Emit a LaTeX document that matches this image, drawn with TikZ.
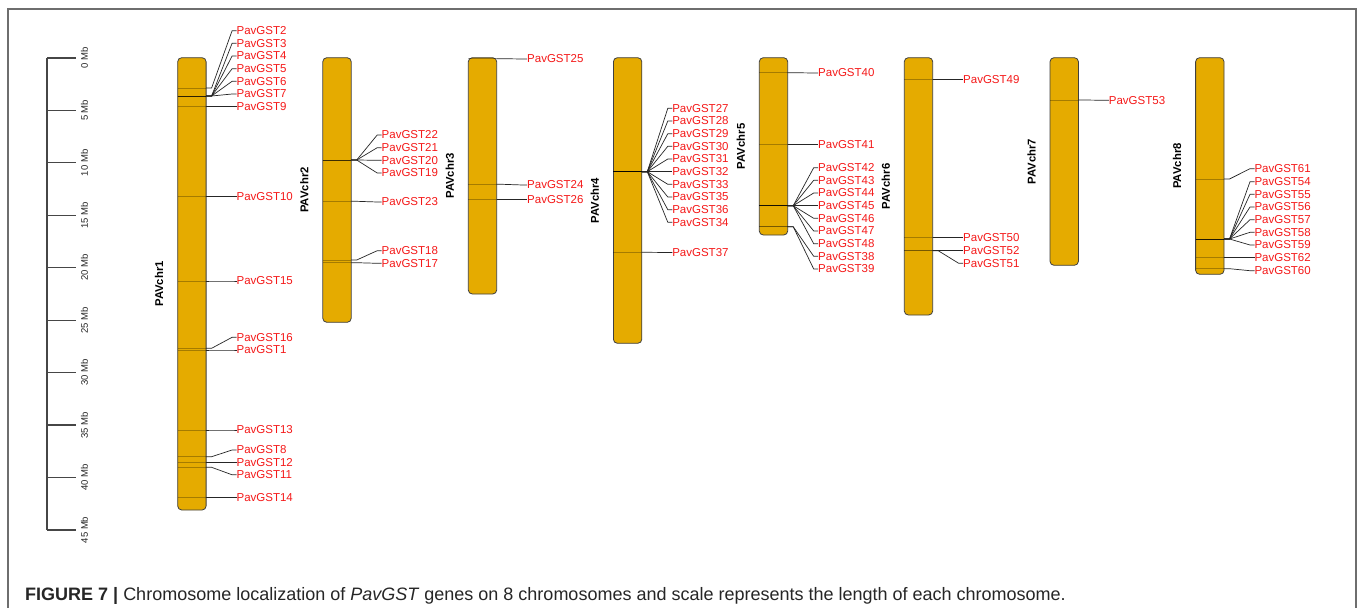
\documentclass[tikz,border=0pt]{standalone}
\usepackage{fontspec}
\setmainfont{Liberation Sans}
\definecolor{chromfill}{RGB}{229,171,0}
\definecolor{genered}{RGB}{245,25,25}
\definecolor{framegray}{RGB}{110,110,110}
\definecolor{scalegray}{RGB}{70,70,70}
\tikzset{
  chrom/.style={draw=black!75, line width=0.8bp, fill=chromfill, rounded corners=4bp,
    minimum width=28.4bp, anchor=north west, inner sep=0pt, outer sep=0pt},
  band/.style={draw=black, opacity=0.28, line width=0.9bp},
  con/.style={draw=black!85, line width=0.7bp},
  gl/.style={anchor=west, inner sep=0pt, outer sep=0pt, text=genered,
    font=\fontsize{11.5bp}{12bp}\selectfont},
  chrlab/.style={rotate=90, inner sep=0pt, font=\bfseries\fontsize{11.3bp}{12bp}\selectfont},
  sclab/.style={rotate=90, inner sep=0pt, text=black!85, font=\fontsize{9.5bp}{10bp}\selectfont},
  scaleline/.style={draw=scalegray, line width=1.2bp},
}
% #1 id, #2 chromosome left x, #3 band y, #4 label y
\newcommand\gene[4]{%
  \draw[band] (#2,#3) -- (#2+28.4,#3);
  \coordinate (s#1) at (#2+28.4,#3);
  \node[gl] (g#1) at (#2+58.9,#4) {PavGST#1};
  \draw[con] (s#1) -- ++(5.5,0) -- ([xshift=-4.5bp]g#1.west) -- (g#1.west);
}
\begin{document}
\begin{tikzpicture}[x=1bp,y=-1bp]
\useasboundingbox (0,0) rectangle (1358,608);
\fill[white] (0,0) rectangle (1358,608);
% frame
\draw[framegray, line width=1.6bp] (8,608) -- (8,9) -- (1356,9) -- (1356,608);

% scale bar
\draw[scaleline] (47,58) -- (47,530);
\foreach \k in {0,...,9}{
  \pgfmathsetmacro\yy{58+\k*52.44}
  \pgfmathtruncatemacro\mb{\k*5}
  \draw[scaleline] (47,\yy) -- (76,\yy);
  \node[sclab] (sc\k) at (84.5,\yy) {\mb{} Mb};
}

% chromosomes
\node[chrom, minimum height=452.3bp] (c1) at (177.7,57.7) {};
\node[chrom, minimum height=264.6bp] (c2) at (322.8,57.7) {};
\node[chrom, minimum height=236.3bp] (c3) at (468.3,57.7) {};
\node[chrom, minimum height=285.6bp] (c4) at (613.4,57.7) {};
\node[chrom, minimum height=177.3bp] (c5) at (759.3,57.7) {};
\node[chrom, minimum height=257.3bp] (c6) at (904.3,57.7) {};
\node[chrom, minimum height=207.6bp] (c7) at (1050.0,57.7) {};
\node[chrom, minimum height=216.6bp] (c8) at (1195.6,57.7) {};

% chromosome labels
\node[chrlab] (l1) at ([xshift=-18.5bp]c1.west) {PAVchr1};
\node[chrlab] (l2) at ([xshift=-18.5bp]c2.west) {PAVchr2};
\node[chrlab] (l3) at ([xshift=-18.5bp]c3.west) {PAVchr3};
\node[chrlab] (l4) at ([xshift=-18.5bp]c4.west) {PAVchr4};
\node[chrlab] (l5) at ([xshift=-18.5bp]c5.west) {PAVchr5};
\node[chrlab] (l6) at ([xshift=-18.5bp]c6.west) {PAVchr6};
\node[chrlab] (l7) at ([xshift=-18.5bp]c7.west) {PAVchr7};
\node[chrlab] (l8) at ([xshift=-18.5bp]c8.west) {PAVchr8};

% chr1
\gene{2}{177.7}{88}{30.7}
\gene{3}{177.7}{96}{43.3}
\gene{4}{177.7}{96}{56}
\gene{5}{177.7}{96}{68.7}
\gene{6}{177.7}{96}{81.3}
\gene{7}{177.7}{96}{94}
\gene{9}{177.7}{106.8}{106.8}
\gene{10}{177.7}{196.8}{196.8}
\gene{15}{177.7}{281}{281}
\gene{16}{177.7}{348.3}{337.3}
\gene{1}{177.7}{350}{350}
\gene{13}{177.7}{430}{430}
\gene{8}{177.7}{456.7}{450}
\gene{12}{177.7}{462.3}{462.3}
\gene{11}{177.7}{467.3}{474.8}
\gene{14}{177.7}{497.7}{497.7}
% chr2
\gene{22}{322.8}{160}{135}
\gene{21}{322.8}{160}{147.7}
\gene{20}{322.8}{160}{160.3}
\gene{19}{322.8}{160}{173}
\gene{23}{322.8}{201.3}{202}
\gene{18}{322.8}{260}{250.7}
\gene{17}{322.8}{262.7}{263.3}
% chr3
\gene{25}{468.3}{58.7}{59}
\gene{24}{468.3}{184.3}{185}
\gene{26}{468.3}{199.3}{199.3}
% chr4
\gene{27}{613.4}{171.7}{108.3}
\gene{28}{613.4}{171.7}{121}
\gene{29}{613.4}{171.7}{133.7}
\gene{30}{613.4}{171.7}{146.3}
\gene{31}{613.4}{171.7}{159}
\gene{32}{613.4}{171.7}{171.7}
\gene{33}{613.4}{171.7}{184.3}
\gene{35}{613.4}{171.7}{197}
\gene{36}{613.4}{171.7}{209.7}
\gene{34}{613.4}{171.7}{222.3}
\gene{37}{613.4}{252.3}{252.5}
% chr5
\gene{40}{759.3}{72.7}{73}
\gene{41}{759.3}{144.3}{144.3}
\gene{42}{759.3}{205.7}{167.7}
\gene{43}{759.3}{205.7}{180.3}
\gene{44}{759.3}{205.7}{193}
\gene{45}{759.3}{205.7}{205.7}
\gene{46}{759.3}{205.7}{218.3}
\gene{47}{759.3}{205.7}{231}
\gene{48}{759.3}{205.7}{243.7}
\gene{38}{759.3}{226.7}{256.3}
\gene{39}{759.3}{226.7}{269}
% chr6
\gene{49}{904.3}{79.3}{79.3}
\gene{50}{904.3}{237.7}{237.7}
\gene{52}{904.3}{250.7}{250.7}
\gene{51}{904.3}{250.7}{263.3}
% chr7
\gene{53}{1050.0}{100}{100.3}
% chr8
\gene{61}{1195.6}{179}{168.7}
\gene{54}{1195.6}{239}{181.7}
\gene{55}{1195.6}{239}{194.3}
\gene{56}{1195.6}{239}{207}
\gene{57}{1195.6}{239}{219.7}
\gene{58}{1195.6}{239}{232.3}
\gene{59}{1195.6}{239}{245}
\gene{62}{1195.6}{257.7}{257.7}
\gene{60}{1195.6}{268.7}{270.7}

% caption
\node[anchor=base west, inner sep=0pt, text=black!85, font=\fontsize{18bp}{20bp}\selectfont] (cap) at (25,600)
  {\textbf{FIGURE 7 |} Chromosome localization of \textit{PavGST} genes on 8 chromosomes and scale represents the length of each chromosome.};
\end{tikzpicture}
\end{document}
